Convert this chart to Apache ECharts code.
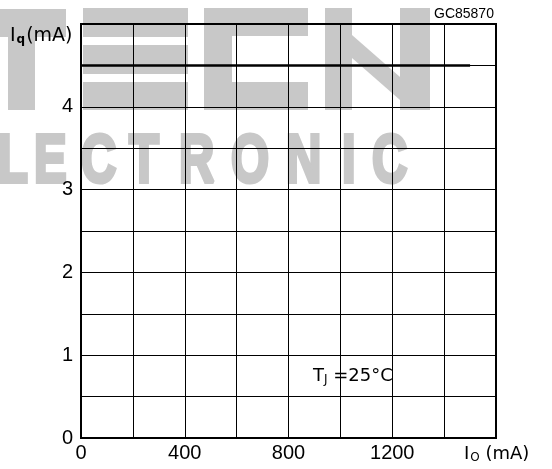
<!DOCTYPE html>
<html><head><meta charset="utf-8">
<script src="https://cdn.jsdelivr.net/npm/echarts@6/dist/echarts.min.js"></script>
<style>html,body{margin:0;padding:0;background:#fff}#c{width:552px;height:469px}</style>
</head><body><div id="c"></div>
<script>
// data
const xIo = [0, 1500];          // I_O (mA)
const yIq = [4.5, 4.5];         // I_q (mA)
const xTickLabels = [0, 400, 800, 1200];
const yTickLabels = [0, 1, 2, 3, 4];
const codeLabel = 'GC85870';

const FONT = '"Liberation Sans", Arial, sans-serif';
const DJ = '"DejaVu Sans", sans-serif';
const GRAY = '#c8c8c8';
const chart = echarts.init(document.getElementById('c'));

// watermark
const wm = [];
function r(x,y,w,h){ wm.push({type:'rect', z:-10, silent:true, shape:{x,y,width:w,height:h}, style:{fill:GRAY}}); }
// T
r(0,9,66,28); r(8,37,27,73);
// E (three bars)
r(83,8,105,29); r(83,45,105,29); r(83,82,105,28);
// C
r(204,8,104,28); r(204,8,28,102); r(204,82,104,28);
// H-like
r(325,8,27,102); r(400,8,30,102);
wm.push({type:'polygon', z:-10, silent:true, shape:{points:[[352,35],[400,77],[400,100],[352,58]]}, style:{fill:GRAY}});
const letters = [['L',-2],['E',34],['C',81],['T',129],['R',179],['O',231],['N',286],['I',342],['C',372]];
letters.forEach(([ch,x])=>{
  wm.push({type:'text', z:-10, silent:true, x:x, y:197, scaleX:0.72,
    style:{text:ch, fontFamily:'Liberation Sans', fontWeight:'bold', fontSize:68, fill:GRAY,
      stroke:GRAY, lineWidth:4, verticalAlign:'bottom'}});
});

chart.setOption({
  animation:false,
  backgroundColor:'#fff',
  grid:{left:81, right:56, top:24, bottom:31, show:true, borderColor:'#000', borderWidth:2},
  xAxis:{type:'value', min:0, max:1600, interval:200,
    axisLine:{show:true, lineStyle:{color:'#000', width:2}},
    axisTick:{show:false},
    splitLine:{show:true, lineStyle:{color:'#000', width:1}},
    axisLabel:{margin:5, color:'#000', fontSize:20, fontFamily:FONT,
      formatter:v=> xTickLabels.includes(v) ? String(v) : ''}},
  yAxis:{type:'value', min:0, max:5, interval:0.5,
    axisLine:{show:true, lineStyle:{color:'#000', width:2}},
    axisTick:{show:false},
    splitLine:{show:true, lineStyle:{color:'#000', width:1}},
    axisLabel:{margin:8, color:'#000', fontSize:20, fontFamily:FONT,
      formatter:v=> yTickLabels.includes(v) ? String(v) : ''}},
  series:[{type:'line', data:xIo.map((x,i)=>[x,yIq[i]]), showSymbol:false,
    lineStyle:{color:'#000', width:2.5}, z:5}],
  graphic:wm.concat([
    {type:'text', x:434, y:7, style:{text:codeLabel, fontFamily:'Liberation Sans', fontSize:14, fill:'#000'}},
    {type:'text', x:10, y:26, style:{text:'{a|I}{s|q}{a|(mA)}', fill:'#000',
      rich:{a:{fontSize:19, fontFamily:DJ}, s:{fontSize:12, fontFamily:DJ, fontWeight:'bold', padding:[8,1,0,1]}}}},
    {type:'text', x:464, y:444, style:{text:'{a|I}{s|O}{a| (mA)}', fill:'#000',
      rich:{a:{fontSize:18, fontFamily:DJ}, s:{fontSize:12, fontFamily:DJ, padding:[8,0,0,1]}}}},
    {type:'text', x:313, y:366, z:10, style:{text:'{a|T}{s|J}{a| =25°C}', fill:'#000',
      rich:{a:{fontSize:18, fontFamily:DJ}, s:{fontSize:12, fontFamily:DJ, padding:[8,0,0,0]}}}}
  ])
});
</script></body></html>
